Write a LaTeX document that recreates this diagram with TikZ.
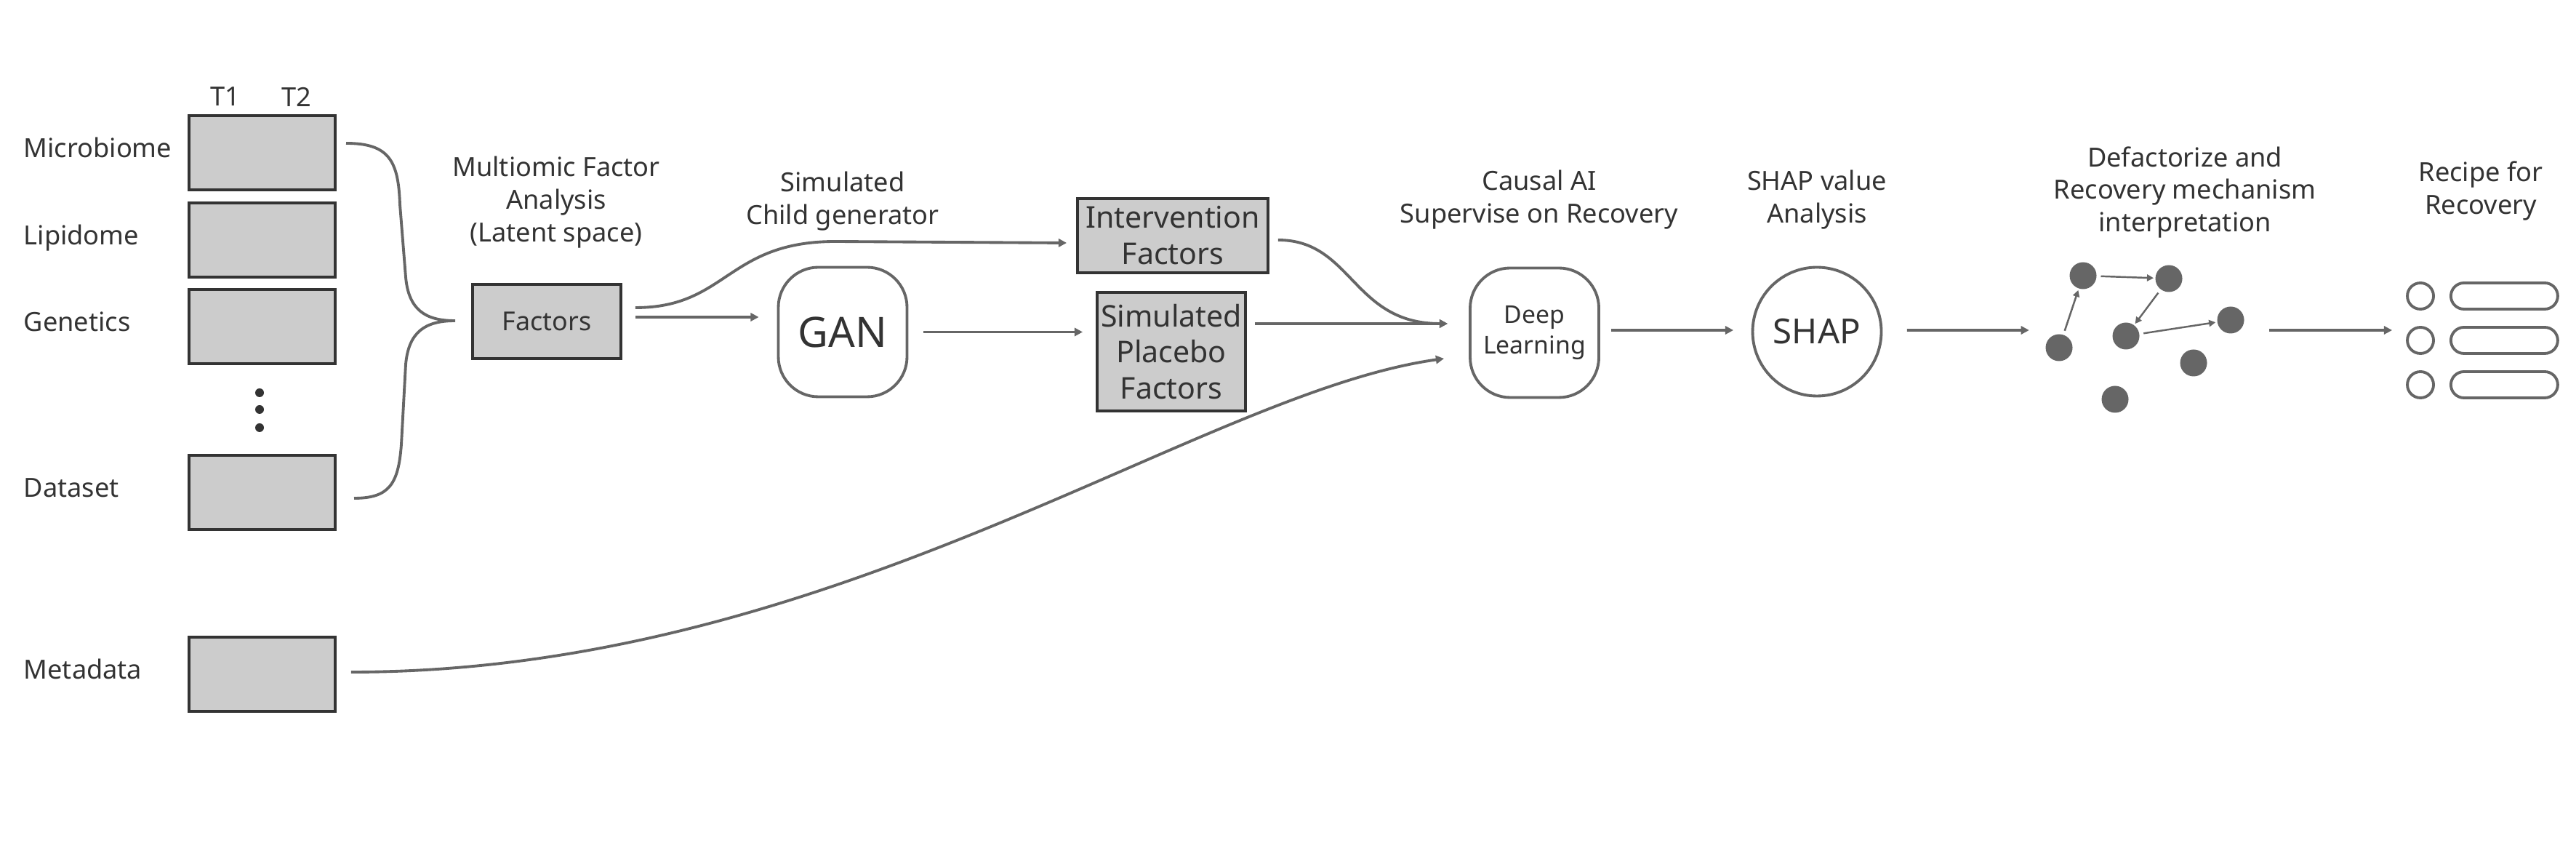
\documentclass[tikz,border=0pt]{standalone}
\usepackage{fontspec}
\setmainfont{Noto Sans}
\usetikzlibrary{arrows.meta}
\usetikzlibrary{calc}
\usetikzlibrary{positioning}

\definecolor{ink}{HTML}{333333}
\definecolor{wire}{HTML}{666666}
\definecolor{boxgray}{HTML}{CCCCCC}

\tikzset{
  databox/.style={draw=ink, fill=boxgray, line width=1.1pt, minimum width=2.01cm, minimum height=1.02cm, inner sep=0pt},
  factbox/.style={draw=ink, fill=boxgray, line width=1.1pt, inner sep=0pt, align=center, text=ink, font=\fontsize{11.7}{14.2}\selectfont},
  softbox/.style={draw=wire, line width=1.1pt, rounded corners=0.55cm, minimum width=1.77cm, minimum height=1.78cm, inner sep=0pt, align=center, text=ink},
  lbl/.style={font=\fontsize{10.3}{12.8}\selectfont, text=ink, anchor=base west, inner sep=0pt},
  title/.style={font=\fontsize{10.3}{12.8}\selectfont, text=ink, align=center},
  conn/.style={draw=wire, line width=1.1pt, -{Triangle[length=3.2pt,width=3.2pt]}},
  dot/.style={circle, fill=wire, minimum size=0.37cm, inner sep=0pt},
  link/.style={draw=wire, line width=0.7pt, -{Triangle[length=2.6pt,width=2.6pt]}, shorten <=1.5pt, shorten >=0.5pt},
  ring/.style={circle, draw=wire, line width=1.1pt, minimum size=0.36cm, inner sep=0pt},
  pill/.style={draw=wire, line width=1.1pt, rounded corners=0.18cm, minimum width=1.47cm, minimum height=0.36cm, inner sep=0pt}
}

\begin{document}
\begin{tikzpicture}
\useasboundingbox (0,0) rectangle (35.43,11.81);

% data blocks
\node[databox] (mic) at (3.605,9.71) {};
\node[databox] (lip) at (3.605,8.51) {};
\node[databox] (gen) at (3.605,7.32) {};
\node[databox] (dset) at (3.605,5.04) {};
\node[databox] (meta) at (3.605,2.54) {};

\node[lbl] (lmic) at (0.32,9.64) {Microbiome};
\node[lbl] (llip) at (0.32,8.44) {Lipidome};
\node[lbl] (lgen) at (0.32,7.25) {Genetics};
\node[lbl] (ldset) at (0.32,4.97) {Dataset};
\node[lbl] (lmeta) at (0.32,2.47) {Metadata};

\node[title] (t1) at (3.10,10.48) {T1};
\node[title] (t2) at (4.08,10.48) {T2};

\foreach \y in {6.41,6.18,5.93}
  \fill[ink] (3.57,\y) circle (0.06);

% brace into the factor block
\coordinate (btop) at (4.76,9.84);
\coordinate (btip) at (6.26,7.40);
\coordinate (bbot) at (4.87,4.96);
\draw[wire, line width=1.1pt] (btop) .. controls (5.35,9.84) and (5.48,9.6) .. (5.50,9.0)
  -- (5.58,8.0) .. controls (5.62,7.55) and (5.85,7.40) .. (btip)
  .. controls (5.85,7.40) and (5.62,7.25) .. (5.58,6.8)
  -- (5.52,5.7) .. controls (5.48,5.15) and (5.35,4.96) .. (bbot);

% factors
\node[factbox, minimum width=2.04cm, minimum height=1.02cm, font=\fontsize{10.2}{12.8}\selectfont] (fac) at (7.52,7.39) {Factors};
\node[title] (tmfa) at (7.65,9.03) {Multiomic Factor\\Analysis\\(Latent space)};

% generator
\node[softbox, font=\fontsize{16.4}{19}\selectfont] (gan) at (11.59,7.245) {GAN};
\node[title] (tgan) at (11.59,9.04) {Simulated\\Child generator};

\node[factbox, minimum width=2.62cm, minimum height=1.02cm] (intv) at (16.13,8.57) {Intervention\\Factors};
\node[factbox, minimum width=2.04cm, minimum height=1.63cm] (plac) at (16.11,6.975) {Simulated\\Placebo\\Factors};

% causal model
\node[softbox, font=\fontsize{9.6}{12.2}\selectfont] (dl) at (21.105,7.235) {Deep\\Learning};
\node[title] (tdl) at (21.17,9.06) {Causal AI\\Supervise on Recovery};

\node[circle, draw=wire, line width=1.1pt, minimum size=1.77cm, inner sep=0pt, text=ink, font=\fontsize{13.5}{16}\selectfont] (shap) at (24.99,7.25) {SHAP};
\node[title] (tshap) at (24.99,9.06) {SHAP value\\Analysis};

% mechanism graph
\node[dot] (g1) at (28.65,8.02) {};
\node[dot] (g2) at (29.83,7.98) {};
\node[dot] (g3) at (28.32,7.03) {};
\node[dot] (g4) at (29.24,7.19) {};
\node[dot] (g5) at (30.68,7.41) {};
\node[dot] (g6) at (30.17,6.82) {};
\node[dot] (g7) at (29.09,6.32) {};
\draw[link] (g3) -- (g1);
\draw[link] (g1) -- (g2);
\draw[link] (g2) -- (g4);
\draw[link] (g4) -- (g5);
\node[title] (tgraph) at (30.05,9.165) {Defactorize and\\Recovery mechanism\\interpretation};

% recipe
\node[ring] (r1) at (33.29,7.74) {};
\node[ring] (r2) at (33.29,7.13) {};
\node[ring] (r3) at (33.29,6.52) {};
\node[pill, right=0.2cm of r1] (p1) {};
\node[pill, right=0.2cm of r2] (p2) {};
\node[pill, right=0.2cm of r3] (p3) {};
\node[title] (trcp) at (34.12,9.18) {Recipe for\\Recovery};

% connectors
\coordinate (dlin) at ([xshift=-0.29cm,yshift=0.125cm]dl.west);
\coordinate (mdin) at ([xshift=-0.34cm,yshift=-0.355cm]dl.west);
\draw[conn] ([xshift=0.18cm,yshift=0.19cm]fac.east) .. controls (10.0,7.58) and (10.0,8.49) .. (11.49,8.49) -- ([xshift=-0.13cm,yshift=-0.1cm]intv.west);
\draw[conn] ([xshift=0.18cm,yshift=0.06cm]fac.east) -- ([xshift=-0.25cm,yshift=0.205cm]gan.west);
\draw[conn] ([xshift=0.21cm]gan.east) -- ([xshift=-0.18cm]plac.west |- gan.east);
\draw[conn] ([xshift=0.12cm,yshift=-0.06cm]intv.east) .. controls (18.6,8.51) and (18.6,7.36) .. (dlin);
\draw[conn] (plac.east |- dlin) ++(0.11,0) -- (dlin);
\draw[conn] ([xshift=0.2cm,yshift=0.03cm]meta.east) .. controls (11.5,2.57) and (16.5,6.41) .. (mdin);
\draw[conn] ([xshift=0.15cm,yshift=0.035cm]dl.east) -- ([xshift=-0.245cm,yshift=0.02cm]shap.west);
\draw[conn] ([xshift=0.335cm,yshift=0.02cm]shap.east) -- ([xshift=-0.22cm]g3.west |- 0,7.27);
\draw[conn] (31.21,7.27) -- ([xshift=-0.19cm]r2.west |- 0,7.27);

\end{tikzpicture}
\end{document}
